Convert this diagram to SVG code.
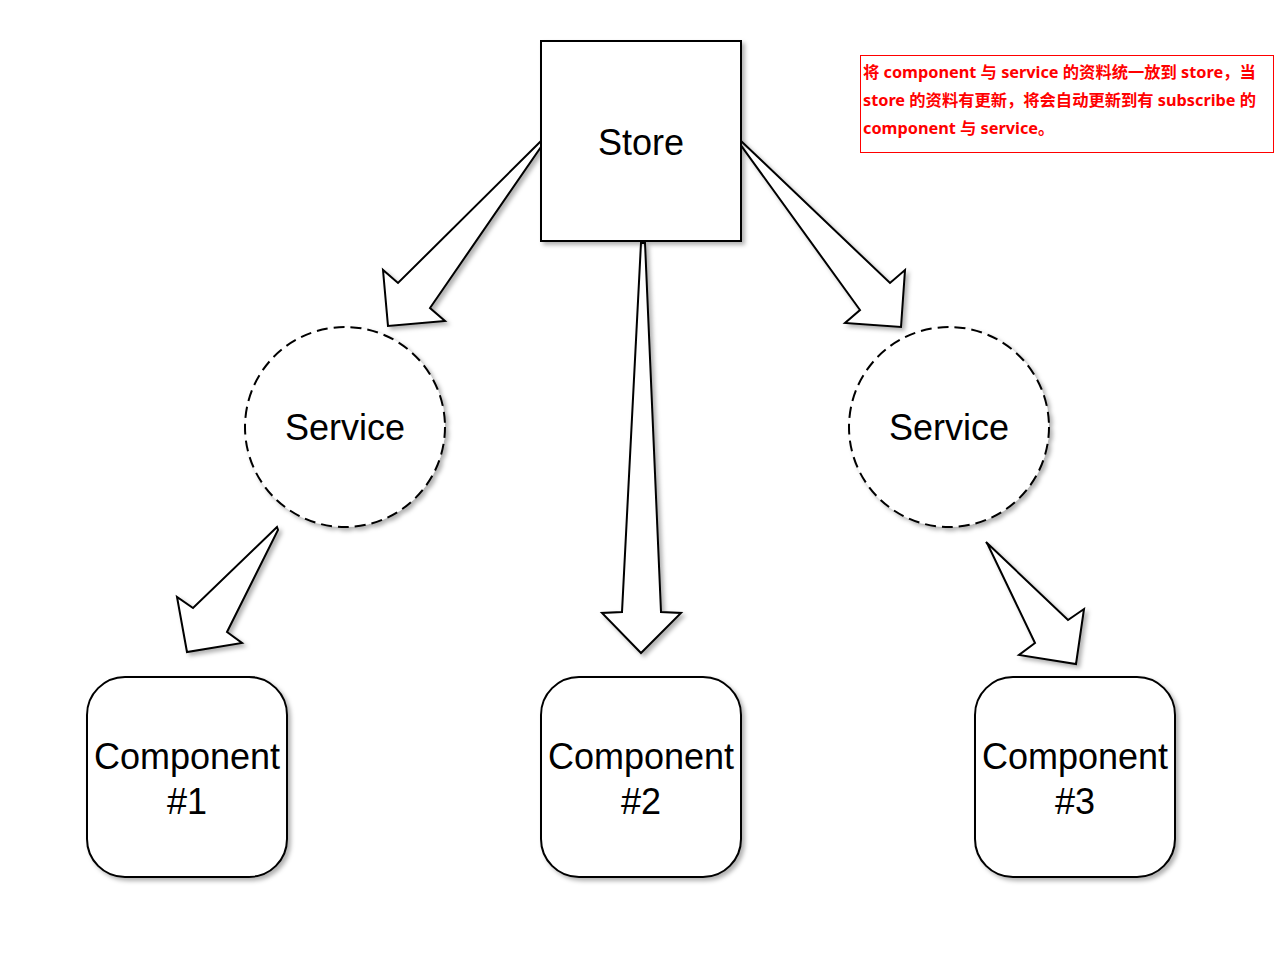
<svg xmlns="http://www.w3.org/2000/svg" width="1280" height="960" viewBox="0 0 1280 960">
<defs>
<filter id="sh" x="-20%" y="-20%" width="150%" height="150%">
<feDropShadow dx="3" dy="3" stdDeviation="2" flood-color="#000" flood-opacity="0.3"/>
</filter>
<style>
.shape{fill:#fff;stroke:#000;stroke-width:2;filter:url(#sh)}
.dash{stroke-dasharray:11 6}
.arrow{fill:#fff;stroke:#000;stroke-width:2;stroke-linejoin:miter;filter:url(#sh)}
.lbl{font-family:"Liberation Sans",Arial,sans-serif;font-size:36px;fill:#000;text-anchor:middle}
.note{font-family:"Noto Sans","Noto Sans CJK SC",sans-serif;font-size:16.3px;font-weight:bold;fill:#f00}
</style>
</defs>
<rect width="1280" height="960" fill="#fff"/>
<g id="connectors">
<polygon class="arrow" points="541,141 398,283 383,270 388,326 445,321 430,308 543,144"/>
<polygon class="arrow" points="741,141 890,283 905,270 901,327 845,323 860,310 740,144"/>
<polygon class="arrow" points="641,243 622,612 602,613 641,653 681,613 661,612 645,243"/>
<polygon class="arrow" points="277,527 193,608 177,597 187,652 242,643 227,632 278,530"/>
<polygon class="arrow" points="986,542 1068,620 1084,609 1076,664 1019,655 1035,643 988,545"/>
</g>
<g id="store">
<rect class="shape" x="541" y="41" width="200" height="200"/>
<text class="lbl" x="641" y="155">Store</text>
</g>
<g id="service1">
<circle class="shape dash" cx="345" cy="427" r="100"/>
<text class="lbl" x="345" y="440">Service</text>
</g>
<g id="service2">
<circle class="shape dash" cx="949" cy="427" r="100"/>
<text class="lbl" x="949" y="440">Service</text>
</g>
<g id="component1">
<rect class="shape" x="87" y="677" width="200" height="200" rx="38" ry="38"/>
<text class="lbl" x="187" y="769">Component</text>
<text class="lbl" x="187" y="814">#1</text>
</g>
<g id="component2">
<rect class="shape" x="541" y="677" width="200" height="200" rx="38" ry="38"/>
<text class="lbl" x="641" y="769">Component</text>
<text class="lbl" x="641" y="814">#2</text>
</g>
<g id="component3">
<rect class="shape" x="975" y="677" width="200" height="200" rx="38" ry="38"/>
<text class="lbl" x="1075" y="769">Component</text>
<text class="lbl" x="1075" y="814">#3</text>
</g>
<g id="note">
<rect x="860.5" y="55.5" width="413" height="97" fill="#fff" stroke="#f00" stroke-width="1"/>
<text class="note" x="863" y="78">将 component 与 service 的资料统一放到 store，当</text>
<text class="note" x="863" y="106">store 的资料有更新，将会自动更新到有 subscribe 的</text>
<text class="note" x="863" y="134">component 与 service。</text>
</g>
</svg>
